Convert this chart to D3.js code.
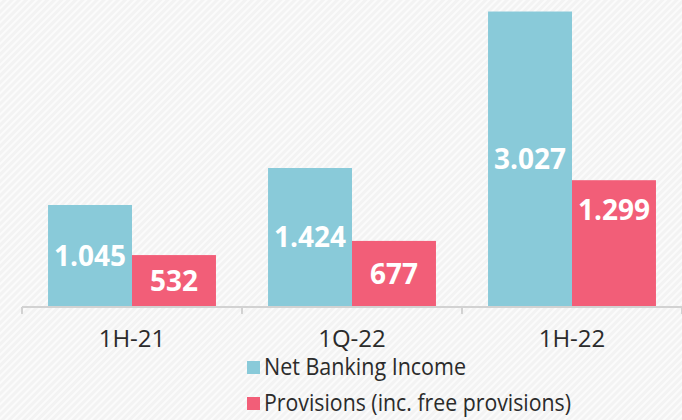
<!DOCTYPE html>
<html>
<head>
    <title></title>
    <script src="https://cdn.jsdelivr.net/npm/d3@7" charset="utf-8"></script>
    <style>
        body{ margin: 0; }
        .value{
            font-family: "Open Sans", sans-serif;
            font-weight: bold;
            font-size: 28px;
            fill: #ffffff;
        }
        .cat, .legend{
            font-family: "Open Sans", sans-serif;
            font-size: 24px;
            fill: #2b2b2b;
        }
    </style>
</head>
<body>

<script type="text/javascript">

    var categories = ["1H-21", "1Q-22", "1H-22"],
            netBanking = [1045, 1424, 3027],
            provisions = [532, 677, 1299],
            valueLabels = [["1.045", "1.424", "3.027"], ["532", "677", "1.299"]],
            seriesNames = ["Net Banking Income", "Provisions (inc. free provisions)"],
            colors = ["#89cad9", "#f25e78"];

    var w = 682,
            h = 420,
            base = 307;

    var svg = d3.select("body")
            .append("svg")
            .attr("width", w)
            .attr("height", h);

    // striped background
    var pat = svg.append("defs").append("pattern")
            .attr("id", "stripes")
            .attr("width", 5)
            .attr("height", 5)
            .attr("patternUnits", "userSpaceOnUse")
            .attr("patternTransform", "rotate(45)");
    pat.append("rect").attr("width", 5).attr("height", 5).attr("fill", "#f3f3f3");
    pat.append("rect").attr("width", 2).attr("height", 5).attr("fill", "#fbfbfb");

    svg.append("rect")
            .attr("width", w)
            .attr("height", h)
            .attr("fill", "url(#stripes)");

    var x0 = d3.scaleBand()
            .domain(categories)
            .range([22, 682]);

    var x1 = d3.scaleBand()
            .domain([0, 1])
            .range([0, x0.bandwidth()])
            .paddingOuter(0.31);

    var y = d3.scaleLinear()
            .domain([0, 3145])
            .range([base, 0]);

    var rows = [];
    categories.forEach(function (c, i) {
        rows.push({cat: c, s: 0, v: netBanking[i], label: valueLabels[0][i]});
        rows.push({cat: c, s: 1, v: provisions[i], label: valueLabels[1][i]});
    });

    svg.selectAll("rect.bar")
            .data(rows)
            .enter()
            .append("rect")
            .attr("class", "bar")
            .attr("x", function (d) { return x0(d.cat) + x1(d.s); })
            .attr("y", function (d) { return y(d.v); })
            .attr("width", x1.bandwidth())
            .attr("height", function (d) { return y(0) - y(d.v); })
            .attr("fill", function (d) { return colors[d.s]; });

    // value labels, centred in the bar (the tall red one sits nearer the top)
    svg.selectAll("text.value")
            .data(rows)
            .enter()
            .append("text")
            .classed("value", true)
            .attr("text-anchor", "middle")
            .attr("x", function (d) { return x0(d.cat) + x1(d.s) + x1.bandwidth() / 2; })
            .attr("y", function (d) {
                var mid = (y(d.v) + y(0)) / 2;
                if (d.s === 1 && d.v > 1000) mid = y(d.v) + 30;
                return mid + 10;
            })
            .text(function (d) { return d.label; });

    // axis
    var axis = svg.append("g")
            .attr("transform", "translate(0," + base + ")");
    axis.append("line")
            .attr("x1", 22).attr("x2", 682)
            .attr("stroke", "#d2d2d2")
            .attr("stroke-width", 2);
    axis.selectAll("line.tick")
            .data([22].concat(categories.map(function (c) { return x0(c) + x0.bandwidth(); })))
            .enter()
            .append("line")
            .attr("x1", function (d) { return d; })
            .attr("x2", function (d) { return d; })
            .attr("y1", 0).attr("y2", 7)
            .attr("stroke", "#d2d2d2")
            .attr("stroke-width", 2);

    svg.selectAll("text.cat")
            .data(categories)
            .enter()
            .append("text")
            .classed("cat", true)
            .attr("text-anchor", "middle")
            .attr("x", function (d) { return x0(d) + x0.bandwidth() / 2; })
            .attr("y", 347)
            .text(function (d) { return d; });

    // legend
    var leg = svg.selectAll("g.leg")
            .data(seriesNames)
            .enter()
            .append("g")
            .attr("transform", function (d, i) { return "translate(247," + (361 + i * 36) + ")"; });
    leg.append("rect")
            .attr("width", 13)
            .attr("height", 13)
            .attr("fill", function (d, i) { return colors[i]; });
    leg.append("text")
            .classed("legend", true)
            .attr("x", 17)
            .attr("y", 14)
            .attr("textLength", function (d, i) { return i ? 307 : 202; })
            .attr("lengthAdjust", "spacingAndGlyphs")
            .text(function (d) { return d; });
</script>
</body>
</html>
